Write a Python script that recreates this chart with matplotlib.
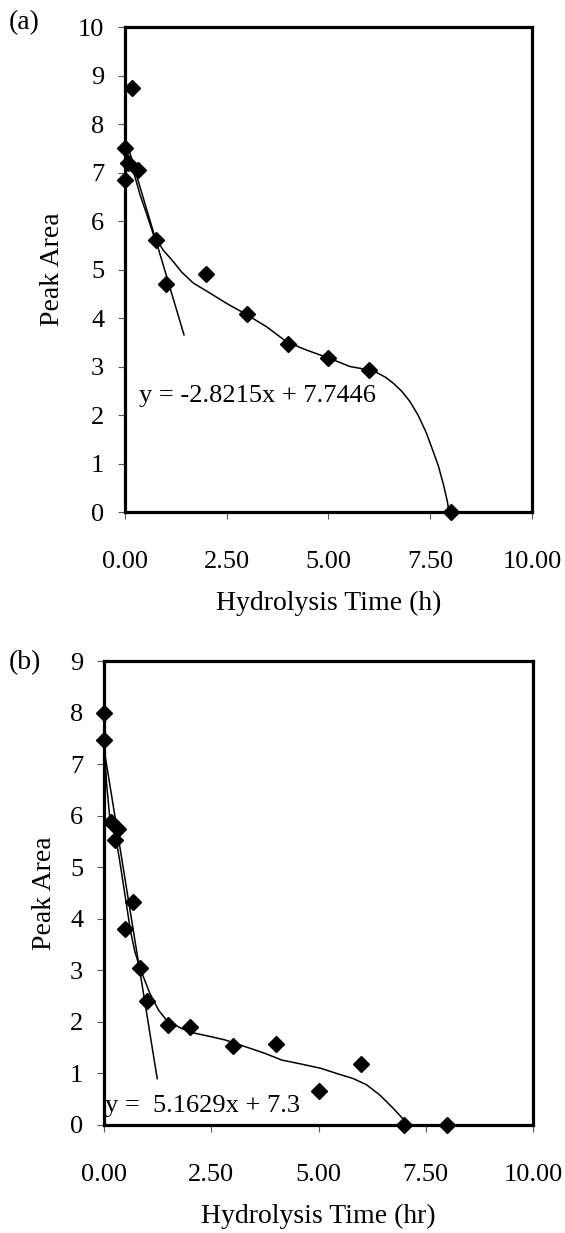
import numpy as np
import matplotlib
matplotlib.use("Agg")
import matplotlib.pyplot as plt

plt.rcParams['font.family'] = ['Liberation Serif', 'DejaVu Serif']

# panel (a): measured peak areas
time_a = [0.0, 0.17, 0.08, 0.0, 0.33, 0.75, 1.0, 2.0, 3.0, 4.0, 5.0, 6.0, 8.0]
area_a = [7.5, 8.74, 7.2, 6.84, 7.05, 5.6, 4.7, 4.9, 4.08, 3.46, 3.18, 2.93, 0.0]

# panel (a): smoothed trend through the data
curve_ta = [0.0, 0.1, 0.25, 0.37, 0.53, 0.70, 0.94, 1.19, 1.39, 1.68, 2.0, 2.5,
            2.97, 3.48, 3.97, 4.46, 4.99, 5.53, 6.0, 6.2, 6.4, 6.6, 6.8, 7.0,
            7.2, 7.4, 7.55, 7.7, 7.82, 7.92, 7.96]
curve_ya = [7.5, 7.3, 6.9, 6.54, 6.15, 5.72, 5.40, 5.16, 4.95, 4.72, 4.56, 4.30,
            4.08, 3.82, 3.51, 3.34, 3.18, 3.0, 2.93, 2.87, 2.78, 2.65, 2.49, 2.28,
            2.0, 1.64, 1.30, 0.95, 0.58, 0.22, 0.0]

# panel (a): initial-rate linear fit
slope_a, icept_a = -2.8215, 7.7446
fit_range_a = [0.1, 1.45]
eq_a = "y = -2.8215x + 7.7446"

# panel (b): measured peak areas
time_b = [0.0, 0.0, 0.17, 0.33, 0.25, 0.67, 0.5, 0.83, 1.0, 1.5, 2.0, 3.0, 4.0, 5.0, 6.0, 7.0, 8.0]
area_b = [8.0, 7.47, 5.88, 5.75, 5.52, 4.33, 3.8, 3.05, 2.41, 1.94, 1.9, 1.54, 1.57, 0.65, 1.18, 0.0, 0.0]

# panel (b): smoothed trend through the data
curve_tb = [0.0, 0.06, 0.14, 0.25, 0.37, 0.5, 0.62, 0.72, 0.84, 1.07, 1.27, 1.46,
            1.81, 2.12, 2.51, 2.82, 3.29, 3.75, 4.14, 4.55, 5.05, 5.42, 5.81,
            6.12, 6.43, 6.71, 6.98, 7.13]
curve_yb = [7.5, 6.62, 5.91, 5.7, 5.1, 4.4, 3.75, 3.36, 3.04, 2.55, 2.23, 2.03,
            1.87, 1.78, 1.71, 1.65, 1.52, 1.39, 1.26, 1.19, 1.10, 1.0, 0.90,
            0.78, 0.58, 0.35, 0.11, 0.0]

# panel (b): initial-rate linear fit
slope_b, icept_b = -5.1629, 7.3
fit_range_b = [0.0, 1.24]
eq_b = "y =  5.1629x + 7.3"

xticks = [0.0, 2.5, 5.0, 7.5, 10.0]
xticklabels = ["0.00", "2.50", "5.00", "7.50", "10.00"]


def draw_panel(ax, t, a, ct, cy, slope, icept, frange, eq, eq_pos, ymax, xlabel, tag, tag_pos):
    ax.plot(ct, cy, color='black', linewidth=1.1, zorder=3, clip_on=False)
    fx = np.array(frange)
    ax.plot(fx, slope * fx + icept, color='black', linewidth=1.1, zorder=3)
    ax.plot(t, a, linestyle='none', marker='D', markersize=8, color='black',
            zorder=5, clip_on=False)
    ax.text(eq_pos[0], eq_pos[1], eq, fontsize=19, ha='left', va='baseline', zorder=6)

    ax.set_xlim(0, 10)
    ax.set_ylim(0, ymax)
    ax.set_xticks(xticks)
    ax.set_xticklabels(xticklabels)
    ax.set_yticks(range(0, ymax + 1))
    for s in ax.spines.values():
        s.set_linewidth(2.3)
    ax.tick_params(axis='both', direction='out', length=5, width=0.8,
                   color='#555555', labelsize=19)
    ax.tick_params(axis='x', pad=23)
    ax.tick_params(axis='y', pad=10)
    ax.set_xlabel(xlabel, fontsize=20, labelpad=13)
    ax.set_ylabel("Peak Area", fontsize=20, labelpad=9)
    ax.text(tag_pos[0], tag_pos[1], tag, fontsize=20, transform=ax.figure.transFigure,
            ha='left', va='center')


fig = plt.figure(figsize=(5.65, 12.33), dpi=100)
ax_a = fig.add_axes([0.2212, 0.5847, 0.7204, 0.3934])
ax_b = fig.add_axes([0.1841, 0.0876, 0.7593, 0.3763])

draw_panel(ax_a, time_a, area_a, curve_ta, curve_ya, slope_a, icept_a, fit_range_a,
           eq_a, (0.34, 2.27), 10, "Hydrolysis Time (h)", "(a)", (0.016, 0.982))
draw_panel(ax_b, time_b, area_b, curve_tb, curve_yb, slope_b, icept_b, fit_range_b,
           eq_b, (0.02, 0.26), 9, "Hydrolysis Time (hr)", "(b)", (0.016, 0.463))

fig.savefig("out.png", dpi=100)
